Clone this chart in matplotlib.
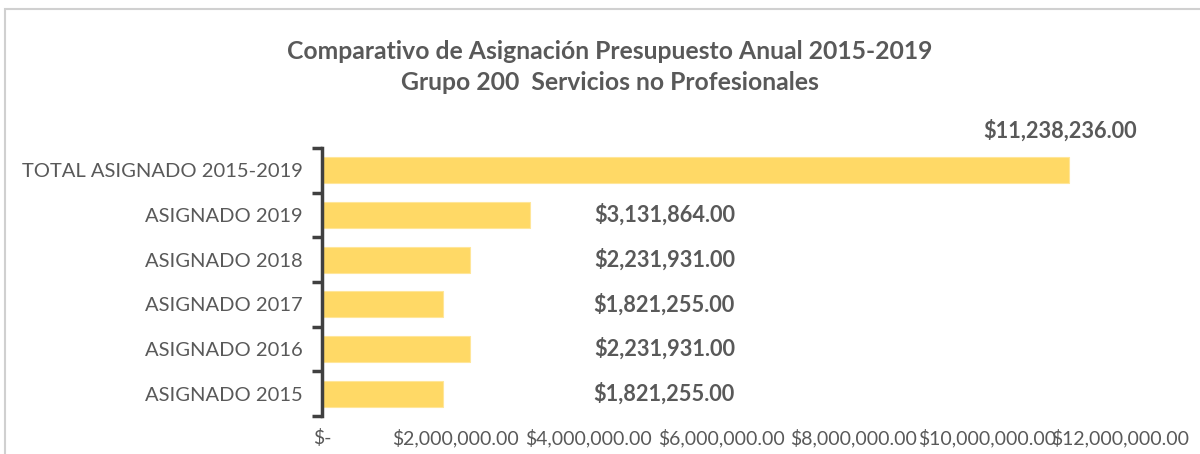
import matplotlib
matplotlib.use("Agg")
import matplotlib.pyplot as plt
from matplotlib.patches import Rectangle
from matplotlib.ticker import FuncFormatter

# --- Daten ---
categorias = ["ASIGNADO 2015", "ASIGNADO 2016", "ASIGNADO 2017",
              "ASIGNADO 2018", "ASIGNADO 2019", "TOTAL ASIGNADO 2015-2019"]
montos = [1821255.00, 2231931.00, 1821255.00, 2231931.00, 3131864.00, 11238236.00]
x_ticks = [0, 2000000, 4000000, 6000000, 8000000, 10000000, 12000000]

TITULO = "Comparativo de Asignación Presupuesto Anual 2015-2019\nGrupo 200  Servicios no Profesionales"

GRIS = "#595959"
AMARILLO = "#FFD966"

plt.rcParams["font.family"] = ["Lato", "DejaVu Sans"]

fig = plt.figure(figsize=(12, 4.54), dpi=100)
ax = fig.add_axes([322 / 1200, 38 / 454, 798 / 1200, 268 / 454])

# Rahmen des Diagramms (nur links/oben sichtbar)
fig.patches.append(Rectangle((5 / 1200, -0.1), 1.2, 1.1 - 9.5 / 454,
                             transform=fig.transFigure, fill=False,
                             edgecolor="#D0D0D0", linewidth=1.5))

pos = list(range(len(categorias)))
ax.barh(pos, montos, height=0.58, color=AMARILLO, edgecolor="#FFE699", linewidth=0.8)

ax.set_xlim(x_ticks[0], x_ticks[-1])
ax.set_ylim(-0.5, len(categorias) - 0.5)

def fmt_dinero(v, _=None):
    if v == 0:
        return "$-"
    return f"${v:,.2f}"

ax.set_xticks(x_ticks)
ax.xaxis.set_major_formatter(FuncFormatter(fmt_dinero))
ax.tick_params(axis="x", length=0, pad=9, labelsize=14, labelcolor=GRIS)

ax.set_yticks(pos)
ax.set_yticklabels(categorias)
ax.tick_params(axis="y", which="major", length=0, pad=14, labelsize=14.5, labelcolor=GRIS)
ax.set_yticks([p - 0.5 for p in pos] + [pos[-1] + 0.5], minor=True)
ax.tick_params(axis="y", which="minor", length=7, width=2.5, color="#404040", direction="out")

for s in ["top", "right", "bottom"]:
    ax.spines[s].set_visible(False)
ax.spines["left"].set_color("#404040")
ax.spines["left"].set_linewidth(2.5)

# Datenbeschriftungen
for i, v in enumerate(montos):
    if i == len(montos) - 1:
        ax.annotate(fmt_dinero(v), xy=(v, i), xytext=(-7, 29), textcoords="offset points",
                    ha="center", va="center", fontsize=15.7, fontweight="bold", color=GRIS)
    else:
        ax.text(0.429, i, fmt_dinero(v), transform=ax.get_yaxis_transform(),
                ha="center", va="center", fontsize=15.7, fontweight="bold", color=GRIS)

fig.text(610 / 1200, 1 - 67 / 454, TITULO, ha="center", va="center",
         fontsize=17.8, fontweight="bold", color=GRIS, linespacing=1.45)

fig.savefig("out.png", dpi=100)
